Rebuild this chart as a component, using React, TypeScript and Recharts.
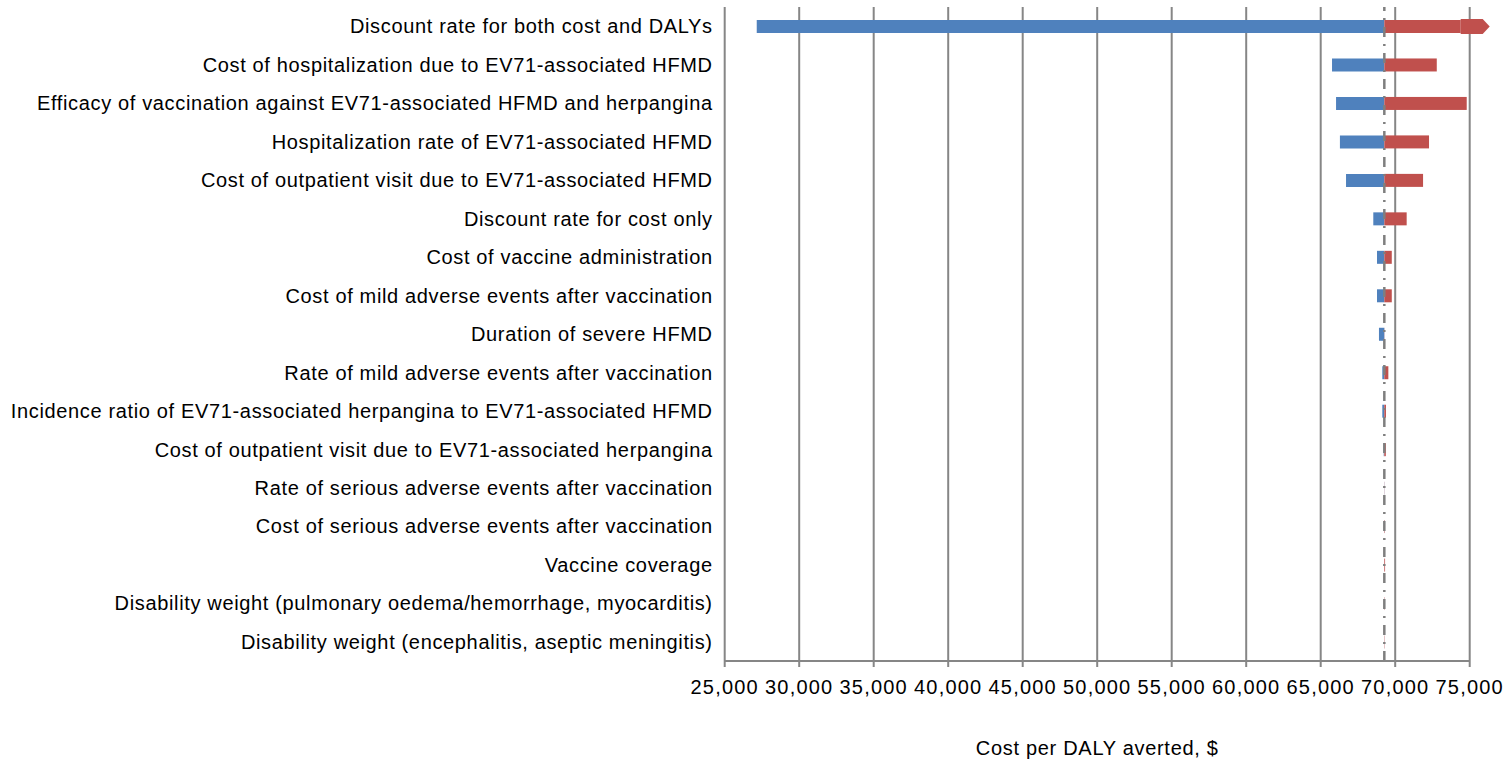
import React from 'react';
import {
  BarChart,
  Bar,
  XAxis,
  YAxis,
  CartesianGrid,
  ReferenceLine,
} from 'recharts';

// Parameters in the one-way sensitivity analysis, top to bottom
const parameters = [
  'Discount rate for both cost and DALYs',
  'Cost of hospitalization due to EV71-associated HFMD',
  'Efficacy of vaccination against EV71-associated HFMD and herpangina',
  'Hospitalization rate of EV71-associated HFMD',
  'Cost of outpatient visit due to EV71-associated HFMD',
  'Discount rate for cost only',
  'Cost of vaccine administration',
  'Cost of mild adverse events after vaccination',
  'Duration of severe HFMD',
  'Rate of mild adverse events after vaccination',
  'Incidence ratio of EV71-associated herpangina to EV71-associated HFMD',
  'Cost of outpatient visit due to EV71-associated herpangina',
  'Rate of serious adverse events after vaccination',
  'Cost of serious adverse events after vaccination',
  'Vaccine coverage',
  'Disability weight (pulmonary oedema/hemorrhage, myocarditis)',
  'Disability weight (encephalitis, aseptic meningitis)',
];

// Cost per DALY averted at the low / high end of each parameter
const lowValues = [27150, 65760, 66030, 66290, 66700, 68530, 68780, 68780, 68910, 69135, 69135, 69230, 69260, 69260, 69265, 69265, 69265];
const highValues = [76400, 72790, 74800, 72270, 71870, 70770, 69770, 69770, 69280, 69540, 69380, 69370, 69280, 69300, 69320, 69290, 69290];

const BASE = 69270;
const xTicks = [25000, 30000, 35000, 40000, 45000, 50000, 55000, 60000, 65000, 70000, 75000];
const X_MIN = 25000;
const X_MAX = 75000;

const data = parameters.map((name, i) => ({
  name,
  low: lowValues[i],
  high: highValues[i],
  lowRange: [lowValues[i], BASE],
  highRange: [BASE, Math.min(highValues[i], X_MAX)],
}));

const FONT = '"Liberation Sans", Arial, sans-serif';

// red bar; gets an arrow head when the value runs past the axis
const HighShape = (props: any) => {
  const { x, y, width, height, fill, payload } = props;
  if (!width || width <= 0) return null;
  if (payload.high <= X_MAX) {
    return <rect x={x} y={y} width={width} height={height} fill={fill} />;
  }
  const bodyEnd = x + width - 9;
  const tip = x + width + 20;
  return (
    <g>
      <rect x={x} y={y} width={bodyEnd - x} height={height} fill={fill} />
      <polygon
        points={`${bodyEnd},${y - 1} ${tip - 7},${y - 1} ${tip},${y + height / 2} ${tip - 7},${y + height + 1} ${bodyEnd},${y + height + 1}`}
        fill={fill}
      />
    </g>
  );
};

export default function App() {
  return (
    <div style={{ position: 'absolute', left: 0, top: 0, background: '#fff' }}>
      <BarChart
        width={1503}
        height={761}
        data={data}
        layout="vertical"
        margin={{ top: 7, right: 33.3, bottom: 0, left: 0 }}
        barSize={13}
        barGap={-13}
      >
        <CartesianGrid horizontal={false} stroke="#868686" strokeWidth={2} />
        <XAxis
          type="number"
          domain={[X_MIN, X_MAX]}
          ticks={xTicks}
          interval={0}
          height={100}
          stroke="#868686"
          strokeWidth={2}
          tickSize={6}
          tickMargin={13}
          tick={{ fill: '#000', fontSize: 20, fontFamily: FONT, letterSpacing: 1.2 }}
          tickFormatter={(v: number) => v.toLocaleString('en-US')}
          label={{
            content: ({ viewBox }: any) => (
              <text
                x={viewBox.x + viewBox.width / 2}
                y={viewBox.y + 94}
                textAnchor="middle"
                fill="#000"
                fontSize={20}
                fontFamily={FONT}
                letterSpacing={0.7}
              >
                Cost per DALY averted, $
              </text>
            ),
          }}
        />
        <YAxis
          type="category"
          dataKey="name"
          width={724.7}
          axisLine={false}
          tickLine={false}
          tickSize={0}
          tickMargin={12}
          interval={0}
          tick={{ fill: '#000', fontSize: 20, fontFamily: FONT, letterSpacing: 0.65 }}
        />
        <Bar dataKey="lowRange" fill="#4F81BD" isAnimationActive={false} />
        <Bar dataKey="highRange" fill="#C0504D" shape={HighShape} isAnimationActive={false} />
        <ReferenceLine x={BASE} stroke="#7f7f7f" strokeWidth={2.5} strokeDasharray="10 7 2 7" />
      </BarChart>
    </div>
  );
}
